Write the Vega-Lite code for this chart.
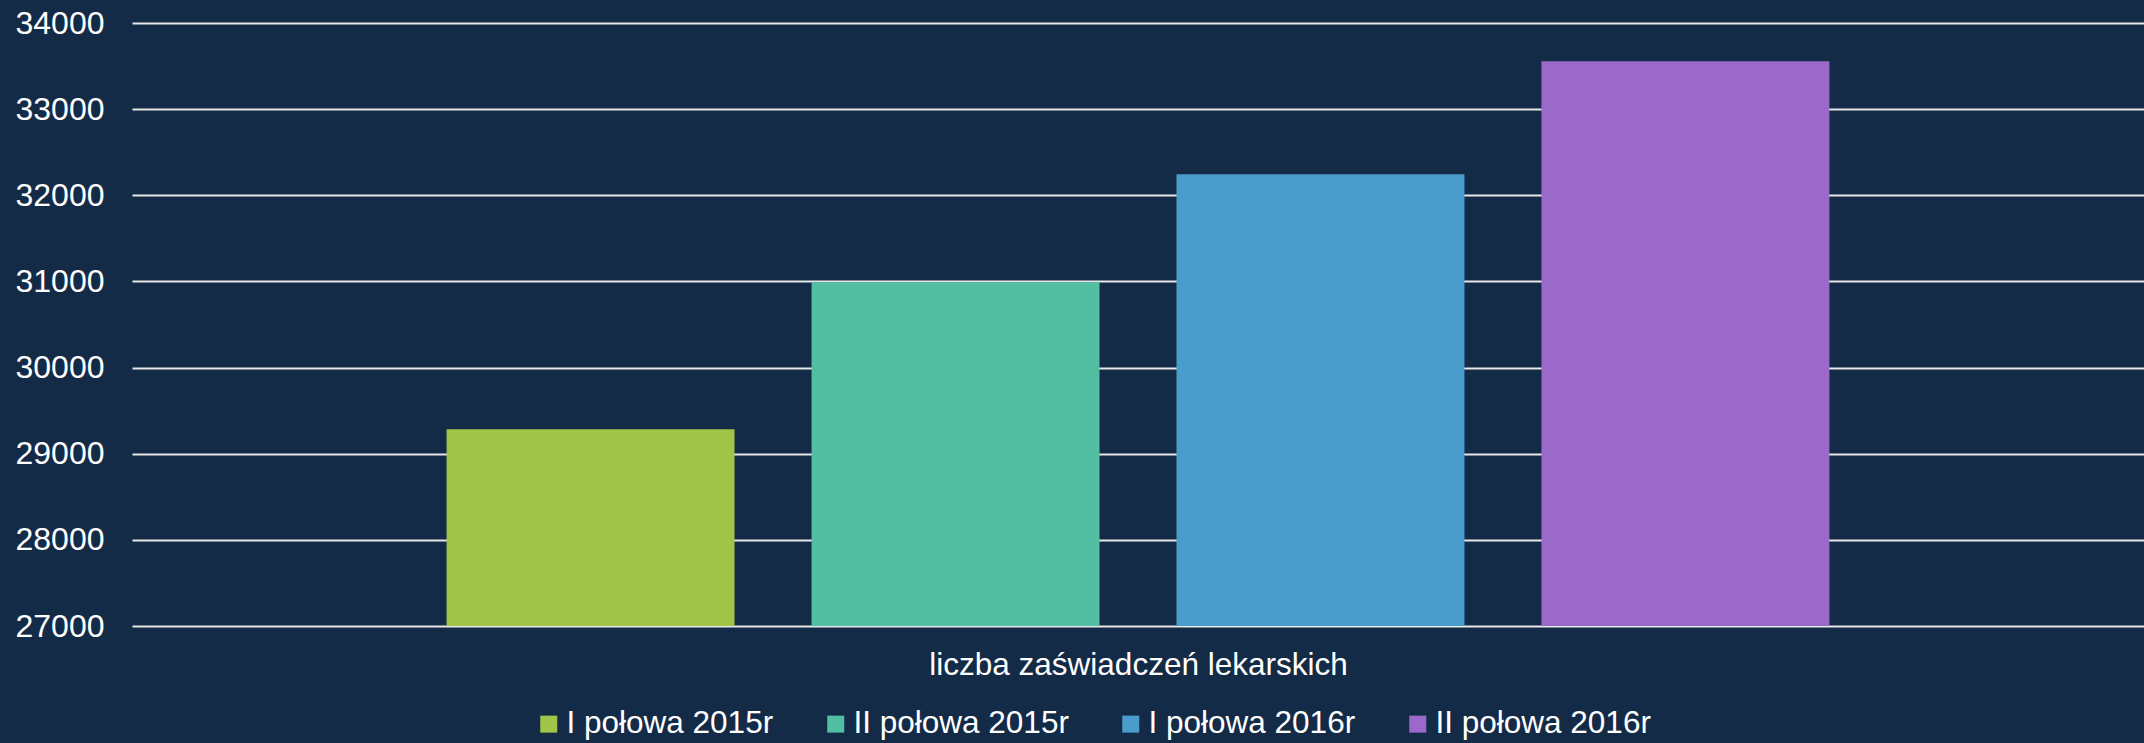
{
  "$schema": "https://vega.github.io/schema/vega-lite/v6.json",
  "width": 2012,
  "height": 603,
  "autosize": {"type": "none"},
  "padding": {"left": 132, "top": 23, "right": 0, "bottom": 117},
  "background": "#142b47",
  "data": {
    "values": [
      {"okres": "I połowa 2015r", "liczba": 29285},
      {"okres": "II połowa 2015r", "liczba": 30990},
      {"okres": "I połowa 2016r", "liczba": 32245},
      {"okres": "II połowa 2016r", "liczba": 33555}
    ]
  },
  "mark": {"type": "bar", "clip": true},
  "encoding": {
    "x": {
      "field": "okres",
      "type": "nominal",
      "sort": null,
      "scale": {"paddingInner": 0.211, "paddingOuter": 0.862},
      "axis": {
        "title": "liczba zaświadczeń lekarskich",
        "labels": false,
        "ticks": false,
        "domain": false,
        "titleFont": "Liberation Sans",
        "titleFontSize": 31.5,
        "titleFontWeight": "normal",
        "titleColor": "#ffffff",
        "titlePadding": 23,
        "titleLimit": 3000
      }
    },
    "y": {
      "field": "liczba",
      "type": "quantitative",
      "scale": {"domain": [27000, 34000], "zero": false, "nice": false},
      "axis": {
        "title": null,
        "values": [27000, 28000, 29000, 30000, 31000, 32000, 33000, 34000],
        "format": "d",
        "ticks": false,
        "domain": false,
        "labelPadding": 28,
        "labelFont": "Liberation Sans",
        "labelFontSize": 32,
        "labelColor": "#ffffff",
        "grid": true,
        "gridColor": "#e8e8e8",
        "gridWidth": 2,
        "gridOpacity": 1
      }
    },
    "color": {
      "field": "okres",
      "type": "nominal",
      "sort": null,
      "scale": {
        "domain": ["I połowa 2015r", "II połowa 2015r", "I połowa 2016r", "II połowa 2016r"],
        "range": ["#a1c548", "#52bfa3", "#4a9ccc", "#9b69c9"]
      },
      "legend": {
        "title": null,
        "orient": "none",
        "direction": "horizontal",
        "legendX": 401,
        "legendY": 685,
        "symbolType": "square",
        "symbolSize": 289,
        "symbolStrokeWidth": 0,
        "symbolOpacity": 1,
        "labelFont": "Liberation Sans",
        "labelFontSize": 31.5,
        "labelColor": "#ffffff",
        "labelOffset": 2,
        "labelLimit": 0,
        "columnPadding": 46,
        "padding": 0
      }
    }
  },
  "config": {
    "view": {"stroke": null},
    "axis": {"gridCap": "butt"}
  }
}
